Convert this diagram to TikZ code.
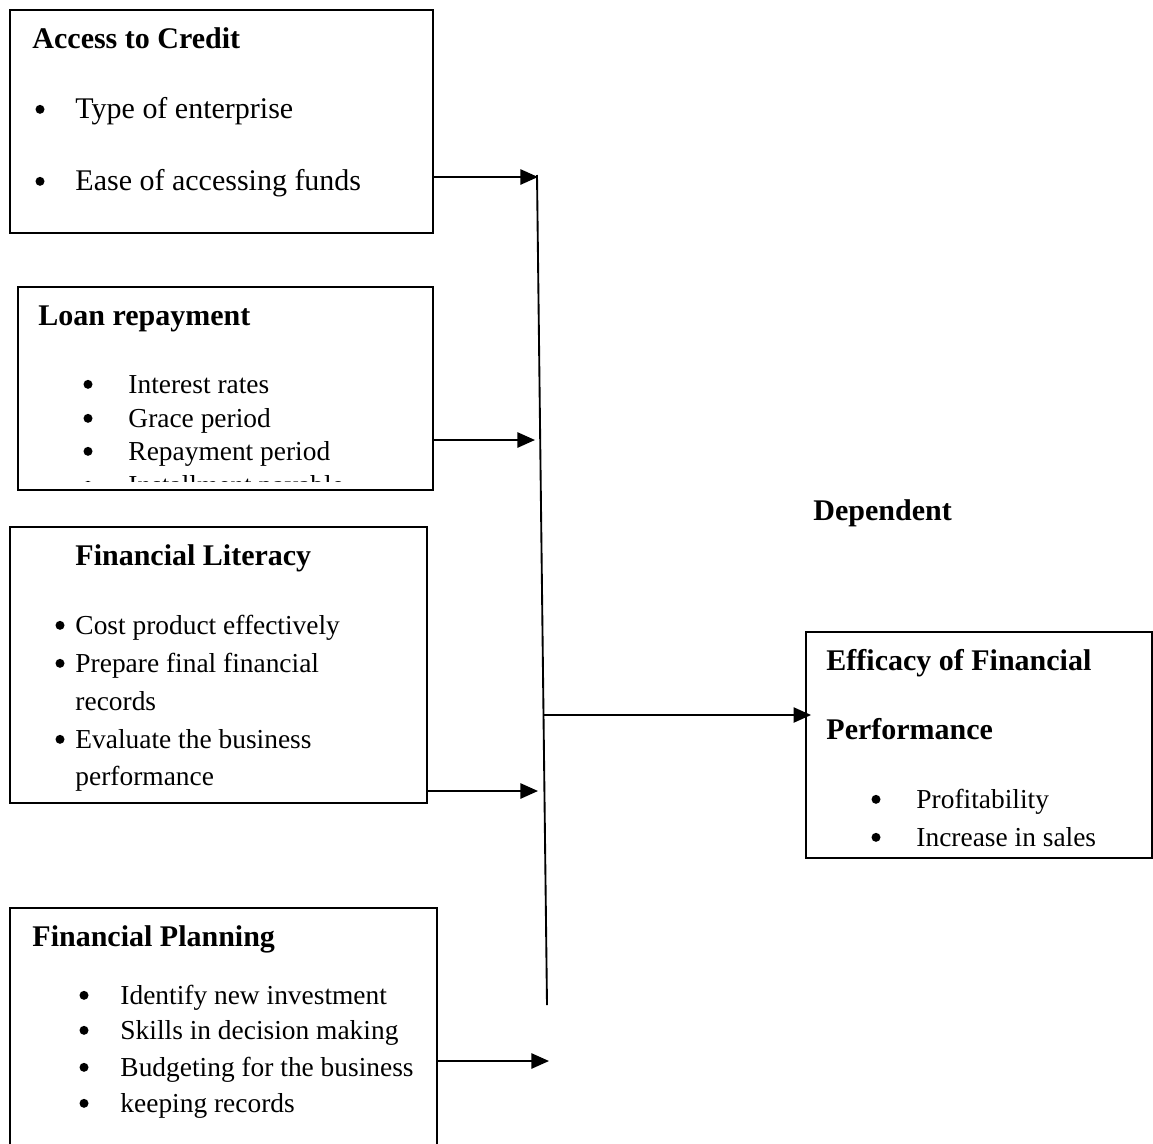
\documentclass[tikz,border=0pt]{standalone}
\usepackage{fontspec}
\setmainfont{Liberation Serif}
\usetikzlibrary{arrows.meta,fit}

\tikzset{
  box/.style={draw,line width=0.8pt,inner sep=0pt},
  head/.style={anchor=base west,inner sep=0pt,font=\fontsize{12.8}{15}\selectfont\bfseries},
  item/.style={anchor=base west,inner sep=0pt},
  bigitem/.style={item,font=\fontsize{12.8}{15}\selectfont},
  dot/.style={circle,fill,inner sep=0pt,minimum size=0.135cm,yshift=0.13cm},
  link/.style={line width=0.8pt,-{Triangle[length=7.5pt,width=6.5pt]}}
}

\begin{document}
\begin{tikzpicture}[x=0.015cm,y=-0.015cm,font=\fontsize{11.7}{14}\selectfont]
        \useasboundingbox (0,0) rectangle (1153,1143);

        % Access to credit
        \node[box,fit={(10,10) (433,233)}] (acc) {};
        \node[head] (acc-t) at (32,48) {Access to Credit};
        \foreach \y/\t [count=\i] in {118/Type of enterprise,190/Ease of accessing funds}{
          \node[dot] (acc-d\i) at (40,\y) {};
          \node[bigitem] (acc-i\i) at (75,\y) {\t};
        }

        % Loan repayment (last line cut off by the box)
        \node[box,fit={(18,287) (433,490)}] (loan) {};
        \node[head] (loan-t) at (38,325) {Loan repayment};
        \begin{scope}
          \clip (18,287) rectangle (433,481);
          \foreach \y/\t [count=\i] in {393/Interest rates,427/Grace period,460/Repayment period,494/Installment payable}{
            \node[dot] (loan-d\i) at (88,\y) {};
            \node[item] (loan-i\i) at (128,\y) {\t};
          }
        \end{scope}

        % Financial literacy
        \node[box,fit={(10,527) (427,803)}] (lit) {};
        \node[head] (lit-t) at (75,565) {Financial Literacy};
        \node[dot] (lit-d1) at (60,634) {};
        \node[dot] (lit-d2) at (60,672) {};
        \node[dot] (lit-d3) at (60,748) {};
        \foreach \y/\t [count=\i] in {634/Cost product effectively,672/Prepare final financial,710/records,748/Evaluate the business,785/performance}{
          \node[item] (lit-i\i) at (75,\y) {\t};
        }

        % Financial planning (runs off the bottom)
        \node[box,fit={(10,908) (437,1160)}] (plan) {};
        \node[head] (plan-t) at (32,946) {Financial Planning};
        \foreach \y/\t [count=\i] in {1004/Identify new investment,1039/Skills in decision making,1076/Budgeting for the business,1112/keeping records}{
          \node[dot] (plan-d\i) at (84,\y) {};
          \node[item] (plan-i\i) at (120,\y) {\t};
        }

        % Dependent variable
        \node[head] (dep) at (813,520) {Dependent};
        \node[box,fit={(806,632) (1152,858)}] (outc) {};
        \node[head] (outc-t1) at (826,670) {Efficacy of Financial};
        \node[head] (outc-t2) at (826,739) {Performance};
        \foreach \y/\t [count=\i] in {808/Profitability,846/Increase in sales}{
          \node[dot] (outc-d\i) at (876,\y) {};
          \node[item] (outc-i\i) at (916,\y) {\t};
        }

        % Collecting line and arrows
        \coordinate (bus-t) at (537,175);
        \coordinate (bus-b) at (547,1005);
        \draw[line width=0.8pt] (bus-t) -- (bus-b);
        \coordinate (j1) at (538,177);
        \coordinate (j2) at (535,440);
        \coordinate (j3) at (538,791);
        \coordinate (j4) at (549,1061);
        \coordinate (o1) at (543,715);
        \draw[link] (acc.east |- j1) -- (j1);
        \draw[link] (loan.east |- j2) -- (j2);
        \draw[link] (lit.east |- j3) -- (j3);
        \draw[link] (plan.east |- j4) -- (j4);
        \draw[link] (o1) -- ([xshift=6*0.015cm]outc.west |- o1);
    \end{tikzpicture}
\end{document}
